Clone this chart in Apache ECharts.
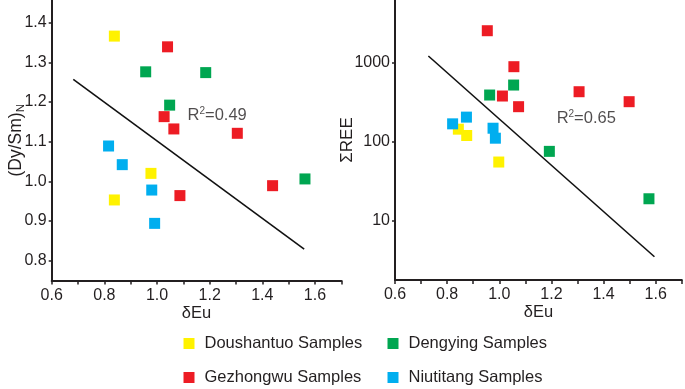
<!DOCTYPE html>
<html><head><meta charset="utf-8">
<script src="https://cdn.jsdelivr.net/npm/echarts@6/dist/echarts.min.js"></script>
<style>html,body{margin:0;padding:0;background:#fff}#c{width:685px;height:389px}</style>
</head><body><div id="c"></div>
<script>
const seriesNames = ['Doushantuo Samples', 'Dengying Samples', 'Gezhongwu Samples', 'Niutitang Samples'];
const seriesColors = ['#fff200', '#00a651', '#ed1c24', '#00aeef'];

// Left panel: (Dy/Sm)N vs δEu
const doushantuoL = [[0.838, 1.366], [0.977, 1.020], [0.838, 0.953]];
const dengyingL = [[0.957, 1.276], [1.185, 1.274], [1.048, 1.192], [1.562, 1.006]];
const gezhongwuL = [[1.040, 1.339], [1.027, 1.163], [1.064, 1.132], [1.305, 1.121], [1.087, 0.964], [1.439, 0.989]];
const niutitangL = [[0.816, 1.089], [0.868, 1.042], [0.980, 0.978], [0.991, 0.894]];
const fitL = [[0.682, 1.257], [1.559, 0.829]];
const r2L = [[1.114, 1.167, 'R²=0.49']];

// Right panel: ΣREE vs δEu
const doushantuoR = [[0.843, 143], [0.875, 119], [0.998, 55]];
const dengyingR = [[0.963, 386], [1.055, 516], [1.192, 75], [1.574, 18.9]];
const gezhongwuR = [[0.954, 2505], [1.056, 880], [1.012, 375], [1.074, 275], [1.306, 425], [1.498, 318]];
const niutitangR = [[0.821, 167], [0.874, 203], [0.976, 147], [0.985, 110]];
const fitR = [[0.728, 1201], [1.595, 3.5]];
const r2R = [[1.218, 198, 'R²=0.65']];

// Axis ticks / labels
const xLabelValues = [0.6, 0.8, 1.0, 1.2, 1.4, 1.6];
const xTickValues = [0.6, 0.7, 0.8, 0.9, 1.0, 1.1, 1.2, 1.3, 1.4, 1.5, 1.6, 1.7];
const yLabelValuesL = [0.8, 0.9, 1.0, 1.1, 1.2, 1.3, 1.4];
const yLabelValuesR = [10, 100, 1000];

const FONT = 'Liberation Sans, Arial, sans-serif';
const TXT = '#231f20';

const axisCommon = {
  axisLine: { lineStyle: { color: TXT, width: 2 } },
  splitLine: { show: false },
  axisLabel: { color: TXT, fontSize: 16, fontFamily: FONT, margin: 5 },
  nameTextStyle: { color: TXT, fontSize: 16.5, fontFamily: FONT }
};

function xAxis(grid) {
  return {
    type: 'value', gridIndex: grid, min: 0.6, max: 1.7,
    name: 'δEu', nameLocation: 'middle', nameGap: 24, nameMoveOverlap: false,
    nameTextStyle: axisCommon.nameTextStyle,
    axisLine: axisCommon.axisLine, splitLine: axisCommon.splitLine,
    axisTick: { show: true, length: 4, lineStyle: { color: TXT, width: 1.5 }, customValues: xTickValues },
    axisLabel: Object.assign({}, axisCommon.axisLabel, {
      margin: 7,
      customValues: xLabelValues,
      formatter: v => Number(v).toFixed(1)
    })
  };
}

const dataL = [doushantuoL, dengyingL, gezhongwuL, niutitangL];
const dataR = [doushantuoR, dengyingR, gezhongwuR, niutitangR];

const series = [];
[dataL, dataR].forEach((set, gi) => {
  series.push({
    type: 'line', xAxisIndex: gi, yAxisIndex: gi, data: gi === 0 ? fitL : fitR,
    symbol: 'none', lineStyle: { color: '#111', width: 1.6 }, z: 1, silent: true
  });
  set.forEach((d, i) => {
    series.push({
      type: 'scatter', name: seriesNames[i], xAxisIndex: gi, yAxisIndex: gi,
      data: d, symbol: 'rect', symbolSize: 11,
      itemStyle: { color: seriesColors[i], opacity: 1 }, z: 2
    });
  });
  series.push({
    type: 'scatter', xAxisIndex: gi, yAxisIndex: gi, data: gi === 0 ? r2L : r2R,
    symbolSize: 1, itemStyle: { color: 'rgba(0,0,0,0)' }, silent: true, z: 3,
    label: {
      show: true, position: 'right', distance: 0,
      formatter: p => '{b|R}{s|2}{b|' + p.value[2].slice(2) + '}',
      rich: {
        b: { fontSize: 16.5, fontFamily: FONT, color: TXT },
        s: { fontSize: 10, fontFamily: FONT, color: TXT, verticalAlign: 'top' }
      }
    }
  });
});

const legendCommon = {
  orient: 'vertical', itemWidth: 11, itemHeight: 11, icon: 'rect', itemGap: 17,
  height: 80, padding: 0,
  textStyle: { color: TXT, fontSize: 16.5, fontFamily: FONT, padding: [0, 0, 0, 5] },
  selectedMode: false
};

const option = {
  backgroundColor: '#fff',
  animation: false,
  grid: [
    { left: 51.7, top: 0, width: 289.6, height: 280.5, outerBoundsMode: 'none', containLabel: false },
    { left: 395, top: 0, width: 286.8, height: 280, outerBoundsMode: 'none', containLabel: false }
  ],
  legend: [
    Object.assign({}, legendCommon, { left: 183.5, top: 335, data: [seriesNames[0], seriesNames[2]] }),
    Object.assign({}, legendCommon, { left: 387.5, top: 335, data: [seriesNames[1], seriesNames[3]] })
  ],
  xAxis: [xAxis(0), xAxis(1)],
  yAxis: [
    {
      type: 'value', gridIndex: 0, min: 0.75, max: 1.457,
      name: '(Dy/Sm){s|N}', nameLocation: 'middle', nameGap: 27, nameMoveOverlap: false,
      nameTextStyle: Object.assign({}, axisCommon.nameTextStyle, {
        fontSize: 17.5,
        rich: { s: { fontSize: 11.5, fontFamily: FONT, color: TXT, verticalAlign: 'bottom', padding: [0, 0, -2, 0] } }
      }),
      axisLine: axisCommon.axisLine, splitLine: axisCommon.splitLine,
      axisTick: { show: true, length: 3, lineStyle: { color: TXT, width: 1.5 }, customValues: yLabelValuesL },
      axisLabel: Object.assign({}, axisCommon.axisLabel, {
        customValues: yLabelValuesL, formatter: v => Number(v).toFixed(1)
      })
    },
    {
      type: 'log', logBase: 10, gridIndex: 1, min: 1.78, max: 6120,
      name: 'ΣREE', nameLocation: 'middle', nameGap: 39, nameMoveOverlap: false,
      nameTextStyle: Object.assign({}, axisCommon.nameTextStyle, { fontSize: 17 }),
      axisLine: axisCommon.axisLine, splitLine: axisCommon.splitLine,
      axisTick: { show: true, length: 3, lineStyle: { color: TXT, width: 1.5 }, customValues: yLabelValuesR },
      axisLabel: Object.assign({}, axisCommon.axisLabel, {
        customValues: yLabelValuesR, formatter: v => String(Math.round(v))
      })
    }
  ],
  series: series
};

const chart = echarts.init(document.getElementById('c'), null, { renderer: 'canvas' });
chart.setOption(option);
</script>
</body></html>
